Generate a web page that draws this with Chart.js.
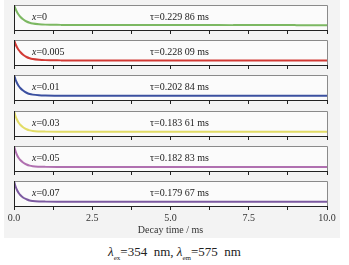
<!DOCTYPE html>
<html>
<head>
<meta charset="utf-8">
<script src="https://cdn.jsdelivr.net/npm/chart.js@4.4.1/dist/chart.umd.min.js"></script>
<style>
  body { margin: 0; width: 349px; height: 265px; position: relative; overflow: hidden; background: #fff; font-family: "Liberation Serif", "DejaVu Serif", serif; }
  #bg { position: absolute; left: 4px; top: 0; width: 336px; height: 238px; background: #f3f3f3; }
  canvas { position: absolute; left: 0; }
  .lab { position: absolute; font-size: 10px; color: #222; white-space: nowrap; line-height: 10px; }
  #caption { position: absolute; left: 0; top: 244px; width: 349px; text-align: center; font-size: 13px; color: #222; }
  #caption sub { font-size: 7px; }
</style>
</head>
<body>
<div id="bg"></div>
<div id="caption"><i>λ</i><sub>ex</sub>=354&nbsp; nm, <i>λ</i><sub>em</sub>=575&nbsp; nm</div>
<script>
// decay time axis (ms)
var times = [0, 0.05, 0.1, 0.15, 0.2, 0.3, 0.4, 0.5, 0.6, 0.8, 1, 1.5, 2, 3, 4, 5, 6, 7, 8, 9, 10];

// normalized intensity
var x0     = [1.0, 0.84, 0.71, 0.61, 0.53, 0.42, 0.34, 0.29, 0.26, 0.23, 0.215, 0.205, 0.2, 0.2, 0.2, 0.2, 0.2, 0.195, 0.2, 0.195, 0.195];
var x0005  = [1.0, 0.83, 0.70, 0.60, 0.52, 0.40, 0.32, 0.27, 0.24, 0.21, 0.195, 0.185, 0.18, 0.18, 0.18, 0.18, 0.18, 0.18, 0.18, 0.18, 0.18];
var x001   = [1.0, 0.81, 0.67, 0.56, 0.48, 0.37, 0.29, 0.24, 0.215, 0.19, 0.18, 0.172, 0.17, 0.17, 0.17, 0.17, 0.17, 0.17, 0.17, 0.17, 0.17];
var x003   = [1.0, 0.79, 0.64, 0.53, 0.45, 0.34, 0.27, 0.225, 0.2, 0.182, 0.175, 0.171, 0.17, 0.17, 0.17, 0.17, 0.17, 0.17, 0.17, 0.17, 0.17];
var x005   = [1.0, 0.79, 0.63, 0.52, 0.44, 0.33, 0.26, 0.215, 0.19, 0.172, 0.165, 0.161, 0.16, 0.16, 0.16, 0.16, 0.16, 0.16, 0.16, 0.16, 0.16];
var x007   = [1.0, 0.78, 0.63, 0.52, 0.44, 0.33, 0.27, 0.22, 0.2, 0.182, 0.175, 0.171, 0.17, 0.17, 0.17, 0.17, 0.17, 0.17, 0.17, 0.17, 0.17];

var series = [x0, x0005, x001, x003, x005, x007];
var compositions = ['0', '0.005', '0.01', '0.03', '0.05', '0.07'];
var lifetimes = ['0.229 86', '0.228 09', '0.202 84', '0.183 61', '0.182 83', '0.179 67'];
var colors = ['#7cb862', '#d23a35', '#3b50a0', '#e2dc66', '#b070b0', '#7c5aa0'];
var tickLabels = ['0.0', '2.5', '5.0', '7.5', '10.0'];

var boxPlugin = {
  id: 'box',
  beforeDraw: function(chart) {
    var a = chart.chartArea, ctx = chart.ctx;
    ctx.save();
    ctx.fillStyle = '#fbfbfb';
    ctx.fillRect(a.left, a.top, a.right - a.left, a.bottom - a.top);
    ctx.restore();
  },
  afterDraw: function(chart) {
    var a = chart.chartArea, ctx = chart.ctx;
    ctx.save();
    ctx.lineWidth = 1;
    ctx.strokeStyle = '#8a8a8a';
    ctx.beginPath();
    ctx.moveTo(a.left, a.top + 0.5); ctx.lineTo(a.right + 0.5, a.top + 0.5);
    ctx.lineTo(a.right + 0.5, a.bottom);
    ctx.stroke();
    ctx.strokeStyle = '#222';
    ctx.beginPath();
    ctx.moveTo(a.left + 0.5, a.top); ctx.lineTo(a.left + 0.5, a.bottom + 0.5);
    ctx.lineTo(a.right + 0.5, a.bottom + 0.5);
    ctx.stroke();
    ctx.restore();
  }
};

var charts = [];
series.forEach(function(vals, i) {
  var last = i === series.length - 1;
  var boxTop = 5 + i * 35.2;
  var cv = document.createElement('canvas');
  var h = last ? 2 + 25 + 32 : 2 + 25 + 5;
  cv.width = 349; cv.height = h;
  cv.style.top = (boxTop - 2) + 'px';
  document.body.appendChild(cv);

  charts.push(new Chart(cv, {
    type: 'line',
    data: {
      datasets: [{
        data: times.map(function(t, k) { return { x: t, y: vals[k] }; }),
        borderColor: colors[i],
        borderWidth: 2,
        pointRadius: 0,
        cubicInterpolationMode: 'monotone'
      }]
    },
    options: {
      responsive: false,
      animation: false,
      layout: { padding: { left: 14, right: 22, top: 2, bottom: 0 } },
      plugins: { legend: { display: false }, tooltip: { enabled: false } },
      scales: {
        x: {
          type: 'linear', min: 0, max: 10,
          border: { display: false },
          grid: { drawOnChartArea: false, tickLength: 4, color: '#222', lineWidth: 1 },
          ticks: {
            display: last,
            stepSize: 1.25,
            autoSkip: false,
            maxRotation: 0,
            padding: 2,
            color: '#333',
            font: { family: 'Liberation Serif', size: 10 },
            callback: function(v) {
              var k = v / 2.5;
              return Number.isInteger(k) ? tickLabels[k] : '';
            }
          },
          title: {
            display: last,
            text: 'Decay time / ms',
            color: '#333',
            font: { family: 'Liberation Serif', size: 10 },
            padding: { top: 1, bottom: 2 }
          },
          afterFit: function(s) { s.height = last ? 32 : 5; }
        },
        y: { display: false, min: 0, max: 1 }
      }
    },
    plugins: [boxPlugin]
  }));

  var xl = document.createElement('div');
  xl.className = 'lab';
  xl.innerHTML = '<i>x</i>=' + compositions[i];
  xl.style.left = '32px';
  xl.style.top = (boxTop + 7) + 'px';
  document.body.appendChild(xl);

  var tl = document.createElement('div');
  tl.className = 'lab';
  tl.textContent = 'τ=' + lifetimes[i] + ' ms';
  tl.style.left = '150px';
  tl.style.top = (boxTop + 7) + 'px';
  document.body.appendChild(tl);
});
</script>
</body>
</html>
